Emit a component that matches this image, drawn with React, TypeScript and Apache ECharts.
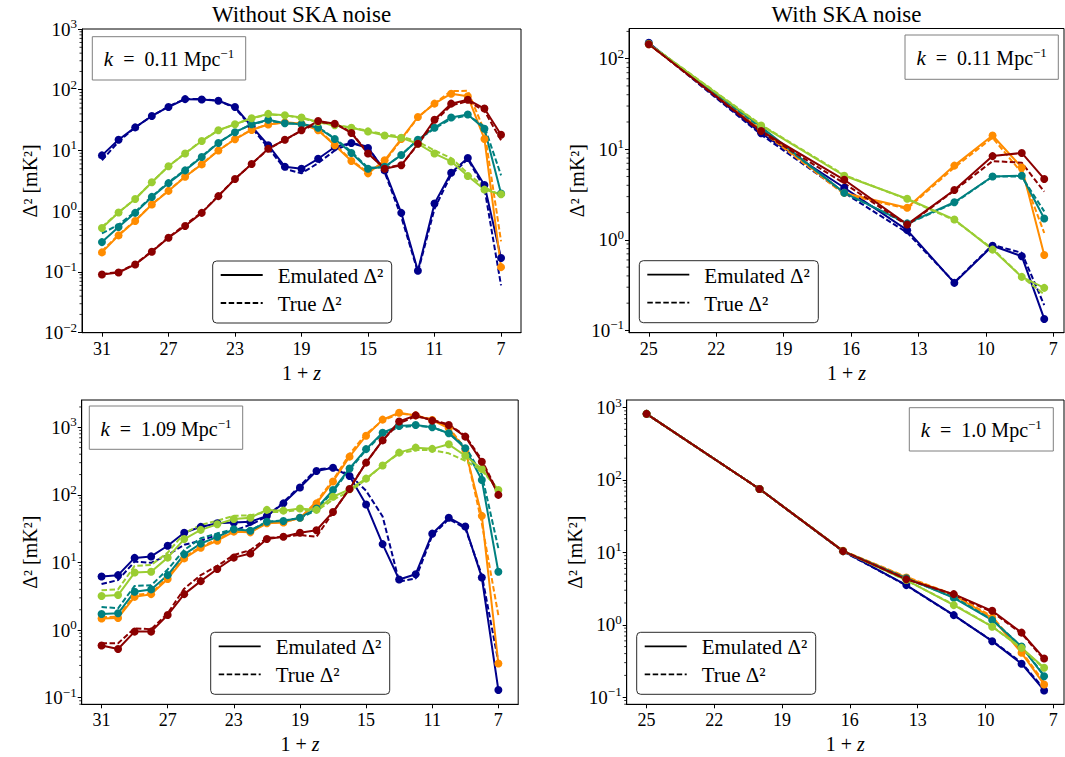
import React, { useEffect, useRef } from 'react';
import * as echarts from 'echarts';

// ---------- data ----------
const COLORS = ['#00008b', '#ff8c00', '#008080', '#9acd32', '#8b0000'];

const X_FULL = [31, 30, 29, 28, 27, 26, 25, 24, 23, 22, 21, 20, 19, 18, 17, 16, 15, 14, 13, 12, 11, 10, 9, 8, 7];
const X_SKA = [25, 20, 16.3, 13.5, 11.4, 9.7, 8.4, 7.4];

const X_TICKS_FULL = [31, 27, 23, 19, 15, 11, 7];
const X_TICKS_SKA = [25, 22, 19, 16, 13, 10, 7];

// Panel 1: k = 0.11, without SKA noise
const P1_EMU_NAVY = [8.3, 15, 24, 37, 52, 70, 69, 66, 52, 25, 12.2, 5.4, 5.0, 7.3, 11.4, 13.3, 11, 4.7, 0.94, 0.105, 1.34, 4.3, 7.5, 2.7, 0.17];
const P1_EMU_ORANGE = [0.21, 0.40, 0.69, 1.29, 2.16, 3.7, 5.9, 10, 15.3, 21.8, 26.8, 29, 27.7, 21.5, 12.2, 6.7, 4.2, 6.9, 15.5, 35.6, 59, 86, 78, 15.5, 0.12];
const P1_EMU_TEAL = [0.31, 0.55, 0.94, 1.72, 2.9, 4.7, 7.8, 13.3, 20, 27, 32, 28, 27, 23.7, 15.5, 9.1, 5.0, 5.4, 8.4, 15, 23.7, 35, 39, 22.8, 1.96];
const P1_EMU_GREEN = [0.53, 0.95, 1.59, 3.0, 5.5, 8.9, 14.3, 21.5, 27, 34, 40, 38, 35, 29.5, 26, 23.7, 20.6, 17.7, 16.2, 12.9, 8.9, 6.6, 3.8, 2.27, 1.9];
const P1_EMU_RED = [0.091, 0.098, 0.133, 0.215, 0.365, 0.57, 0.94, 1.77, 3.4, 6.0, 10.7, 15, 21.5, 30.5, 27.6, 19.4, 8.9, 5.0, 5.7, 12.9, 32, 59, 68.5, 49, 18.2];

const P1_TRUE_NAVY = [6.9, 14, 24, 37, 53, 71, 70, 66, 50, 24, 11, 5.0, 4.2, 6.2, 10, 13.3, 11.5, 4.4, 0.81, 0.1, 1.1, 4.0, 7.2, 2.4, 0.06];
const P1_TRUE_ORANGE = [0.22, 0.41, 0.70, 1.3, 2.2, 3.7, 6.0, 10, 15.5, 22, 27, 29, 28, 22, 12.5, 7, 4.3, 6.5, 15, 35, 60, 95, 96, 21, 0.32];
const P1_TRUE_TEAL = [0.43, 0.6, 0.98, 1.75, 3.0, 4.8, 8, 13.5, 20, 27, 31, 28, 27.5, 24, 16, 9.5, 5.2, 5.3, 8.5, 15, 23, 33, 38, 25, 3.9];
const P1_TRUE_GREEN = [0.55, 0.96, 1.6, 3.0, 5.5, 9, 14.5, 21.5, 27, 34, 39, 38, 34, 29, 26, 24, 21, 18.5, 17, 14, 10, 7.5, 4.2, 2.5, 1.8];
const P1_TRUE_RED = [0.092, 0.1, 0.135, 0.22, 0.37, 0.6, 0.95, 1.8, 3.4, 6, 10.5, 15, 21, 29, 28, 20, 9, 5.2, 5.8, 12.5, 30, 55, 65, 45, 14.7];

// Panel 2: k = 0.11, with SKA noise
const P2_EMU_NAVY = [150, 15, 3.76, 1.28, 0.335, 0.86, 0.66, 0.134];
const P2_EMU_ORANGE = [144, 16.5, 3.3, 2.26, 6.6, 14.2, 6.3, 0.68];
const P2_EMU_TEAL = [146, 17.7, 3.3, 1.52, 2.6, 5.0, 5.1, 1.72];
const P2_EMU_GREEN = [145, 18.3, 5.1, 2.84, 1.68, 0.78, 0.39, 0.295];
const P2_EMU_RED = [144, 15.9, 4.6, 1.48, 3.55, 8.4, 9.1, 4.7];

const P2_TRUE_NAVY = [148, 14.5, 3.3, 1.2, 0.34, 0.88, 0.72, 0.19];
const P2_TRUE_ORANGE = [145, 16, 3.2, 2.2, 6.3, 13.4, 5.5, 1.19];
const P2_TRUE_TEAL = [146, 17.2, 3.3, 1.5, 2.55, 5.0, 5.0, 2.06];
const P2_TRUE_GREEN = [146, 18.6, 5.2, 2.8, 1.65, 0.8, 0.39, 0.25];
const P2_TRUE_RED = [145, 15.5, 4.2, 1.45, 3.5, 7.4, 7.1, 3.4];

// Panel 3: k = 1.09, without SKA noise
const P3_EMU_NAVY = [6.2, 6.5, 11.7, 12.3, 17.7, 27.5, 33.6, 38, 39, 40, 49, 75, 129, 226, 252, 190, 72, 18.7, 5.6, 6.7, 26.7, 46, 34, 6.0, 0.13];
const P3_EMU_ORANGE = [1.48, 1.51, 3.1, 3.4, 5.7, 11.5, 16.5, 21, 28.6, 27.9, 38, 39, 46, 75, 158, 368, 750, 1300, 1640, 1500, 1280, 966, 460, 49, 0.32];
const P3_EMU_TEAL = [1.73, 1.77, 3.7, 4.0, 6.5, 13.2, 19, 24, 31, 29.5, 40, 41, 46, 63, 118, 246, 475, 830, 1045, 1083, 1000, 815, 490, 166, 7.3];
const P3_EMU_GREEN = [3.2, 3.3, 7.1, 7.3, 11.8, 22.2, 30.4, 36.7, 44, 46, 60, 58.5, 63, 60, 94, 121, 174, 272, 422, 500, 480, 560, 380, 242, 118];
const P3_EMU_RED = [0.59, 0.525, 0.95, 0.95, 1.67, 3.4, 5.3, 8.0, 11.8, 13.6, 22.2, 24, 27.6, 30, 56, 122, 300, 640, 1220, 1500, 1255, 1083, 728, 310, 100];

const P3_TRUE_NAVY = [4.8, 5.5, 10.3, 9.9, 12.9, 18.3, 21, 25.6, 29.7, 36, 48, 78, 135, 240, 250, 200, 115, 48, 5.2, 5.8, 25, 44, 32, 6.5, 0.34];
const P3_TRUE_ORANGE = [1.55, 1.58, 3.3, 3.5, 6.0, 12, 17, 22, 29, 28.5, 38, 40, 45, 80, 165, 400, 800, 1250, 1600, 1500, 1300, 1000, 480, 38, 1.66];
const P3_TRUE_TEAL = [2.2, 2.1, 4.5, 4.6, 7.9, 15.3, 22.8, 27, 31, 30, 40, 42, 45, 60, 112, 236, 460, 800, 1000, 1050, 1000, 820, 520, 200, 16.2];
const P3_TRUE_GREEN = [3.9, 4.0, 8.9, 9.2, 14, 27, 36, 41.6, 49, 50, 56, 56, 60, 58, 85, 112, 170, 275, 410, 460, 460, 412, 320, 230, 120];
const P3_TRUE_RED = [0.64, 0.64, 1.06, 1.03, 1.77, 4.1, 6.5, 8.9, 12.9, 15.3, 23, 24, 25.6, 24, 55, 125, 300, 640, 1150, 1450, 1300, 1100, 750, 330, 105];

// Panel 4: k = 1.0, with SKA noise
const P4_EMU_NAVY = [818, 75, 10.4, 3.53, 1.36, 0.594, 0.29, 0.124];
const P4_EMU_ORANGE = [818, 75, 10.5, 4.5, 2.57, 1.25, 0.41, 0.15];
const P4_EMU_TEAL = [818, 75, 10.4, 4.4, 2.36, 1.16, 0.50, 0.195];
const P4_EMU_GREEN = [818, 75, 10.4, 4.15, 1.87, 0.94, 0.48, 0.255];
const P4_EMU_RED = [818, 75, 10.4, 4.24, 2.65, 1.56, 0.78, 0.343];

const P4_TRUE_NAVY = [815, 75, 10.3, 3.5, 1.35, 0.6, 0.3, 0.13];
const P4_TRUE_ORANGE = [815, 75, 10.5, 4.6, 2.6, 1.3, 0.43, 0.16];
const P4_TRUE_TEAL = [815, 75, 10.4, 4.35, 2.4, 1.18, 0.5, 0.2];
const P4_TRUE_GREEN = [815, 75, 10.4, 4.1, 1.9, 0.95, 0.47, 0.25];
const P4_TRUE_RED = [815, 75, 10.4, 4.3, 2.6, 1.5, 0.76, 0.33];

const K_LABELS = ['0.11', '0.11', '1.09', '1.0'];
const TITLES = ['Without SKA noise', 'With SKA noise'];

// ---------- layout ----------
const FONT = '"Liberation Serif", "DejaVu Serif", serif';

type Panel = {
  grid: { left: number; top: number; width: number; height: number };
  xMin: number; xMax: number; xTicks: number[];
  yMin: number; yMax: number; yTicks: number[];
  xs: number[]; emu: number[][]; tru: number[][];
  kBox: { x: number; y: number; w: number; h: number };
  legend: { x: number; y: number };
};

const PANELS: Panel[] = [
  {
    grid: { left: 82, top: 29, width: 439, height: 303.7 },
    xMin: 5.8, xMax: 32.2, xTicks: X_TICKS_FULL,
    yMin: 0.01, yMax: 1000, yTicks: [0.01, 0.1, 1, 10, 100, 1000],
    xs: X_FULL,
    emu: [P1_EMU_NAVY, P1_EMU_ORANGE, P1_EMU_TEAL, P1_EMU_GREEN, P1_EMU_RED],
    tru: [P1_TRUE_NAVY, P1_TRUE_ORANGE, P1_TRUE_TEAL, P1_TRUE_GREEN, P1_TRUE_RED],
    kBox: { x: 92.3, y: 36.7, w: 153.4, h: 43.3 },
    legend: { x: 212.7, y: 261 },
  },
  {
    grid: { left: 629, top: 28.5, width: 435, height: 304.2 },
    xMin: 6.52, xMax: 25.88, xTicks: X_TICKS_SKA,
    yMin: Math.pow(10, -1.025), yMax: Math.pow(10, 2.333), yTicks: [0.1, 1, 10, 100],
    xs: X_SKA,
    emu: [P2_EMU_NAVY, P2_EMU_ORANGE, P2_EMU_TEAL, P2_EMU_GREEN, P2_EMU_RED],
    tru: [P2_TRUE_NAVY, P2_TRUE_ORANGE, P2_TRUE_TEAL, P2_TRUE_GREEN, P2_TRUE_RED],
    kBox: { x: 905, y: 35, w: 153.3, h: 44.3 },
    legend: { x: 639.3, y: 260.7 },
  },
  {
    grid: { left: 81.7, top: 400, width: 436.5, height: 304.3 },
    xMin: 5.8, xMax: 32.2, xTicks: X_TICKS_FULL,
    yMin: Math.pow(10, -1.098), yMax: Math.pow(10, 3.404), yTicks: [0.1, 1, 10, 100, 1000],
    xs: X_FULL,
    emu: [P3_EMU_NAVY, P3_EMU_ORANGE, P3_EMU_TEAL, P3_EMU_GREEN, P3_EMU_RED],
    tru: [P3_TRUE_NAVY, P3_TRUE_ORANGE, P3_TRUE_TEAL, P3_TRUE_GREEN, P3_TRUE_RED],
    kBox: { x: 89.3, y: 406, w: 153.4, h: 43.3 },
    legend: { x: 210.7, y: 632.3 },
  },
  {
    grid: { left: 626.7, top: 400, width: 437.3, height: 304.3 },
    xMin: 6.52, xMax: 25.88, xTicks: X_TICKS_SKA,
    yMin: Math.pow(10, -1.098), yMax: Math.pow(10, 3.104), yTicks: [0.1, 1, 10, 100, 1000],
    xs: X_SKA,
    emu: [P4_EMU_NAVY, P4_EMU_ORANGE, P4_EMU_TEAL, P4_EMU_GREEN, P4_EMU_RED],
    tru: [P4_TRUE_NAVY, P4_TRUE_ORANGE, P4_TRUE_TEAL, P4_TRUE_GREEN, P4_TRUE_RED],
    kBox: { x: 909.3, y: 407.7, w: 144, h: 43.3 },
    legend: { x: 636.7, y: 632.3 },
  },
];

function expLabel(v: number): string {
  const e = Math.round(Math.log10(v));
  return '10{sup|' + (e < 0 ? '\u2212' + String(-e) : String(e)) + '}';
}

function minorValues(yMin: number, yMax: number): number[] {
  const out: number[] = [];
  const e0 = Math.floor(Math.log10(yMin));
  const e1 = Math.ceil(Math.log10(yMax));
  for (let e = e0; e <= e1; e++) {
    for (let m = 2; m <= 9; m++) {
      const v = m * Math.pow(10, e);
      if (v > yMin && v < yMax) out.push(v);
    }
  }
  return out;
}

function buildOption() {
  const grids: any[] = [];
  const xAxes: any[] = [];
  const yAxes: any[] = [];
  const series: any[] = [];
  const graphics: any[] = [];

  PANELS.forEach((p, pi) => {
    grids.push({ ...p.grid, show: true, borderColor: '#000', borderWidth: 1, backgroundColor: 'transparent' });
    xAxes.push({
      type: 'value', gridIndex: pi, inverse: true, min: p.xMin, max: p.xMax,
      splitLine: { show: false },
      axisLine: { show: true, onZero: false, lineStyle: { color: '#000', width: 1 } },
      axisTick: { show: true, length: 4, customValues: p.xTicks, lineStyle: { color: '#000' } },
      axisLabel: { customValues: p.xTicks, color: '#000', fontFamily: FONT, fontSize: 18, margin: 7 },
      name: '1 + {i|z}', nameLocation: 'middle', nameGap: 30,
      nameTextStyle: { color: '#000', fontFamily: FONT, fontSize: 20, rich: { i: { fontStyle: 'italic', fontFamily: FONT, fontSize: 20, color: '#000' } } },
    });
    yAxes.push({
      type: 'log', logBase: 10, gridIndex: pi, min: p.yMin, max: p.yMax,
      splitLine: { show: false },
      axisLine: { show: true, lineStyle: { color: '#000', width: 1 } },
      axisTick: { show: true, length: 4, customValues: p.yTicks, lineStyle: { color: '#000' } },
      axisLabel: {
        customValues: p.yTicks, formatter: (v: number) => expLabel(v), color: '#000', fontFamily: FONT,
        fontSize: 19, lineHeight: 24, margin: 5,
        rich: { sup: { fontSize: 13, lineHeight: 13, verticalAlign: 'top', fontFamily: FONT, color: '#000' } },
      },
      name: '\u0394\u00b2 [mK\u00b2]', nameLocation: 'middle', nameGap: 42,
      nameTextStyle: { color: '#000', fontFamily: FONT, fontSize: 20 },
    });

    // minor ticks on log y axis, placed through the axis scale
    const xMid = (p.xMin + p.xMax) / 2;
    series.push({
      type: 'custom', xAxisIndex: pi, yAxisIndex: pi, silent: true, clip: false, z: 1,
      data: minorValues(p.yMin, p.yMax).map((v) => [xMid, v]),
      encode: { x: 0, y: 1 },
      renderItem: (params: any, api: any) => {
        const pt = api.coord([api.value(0), api.value(1)]);
        const cs = params.coordSys;
        return {
          type: 'line',
          shape: { x1: cs.x - 2.5, y1: pt[1], x2: cs.x, y2: pt[1] },
          style: { stroke: '#000', lineWidth: 0.8 },
        };
      },
    });

    COLORS.forEach((c, k) => {
      series.push({
        type: 'line', xAxisIndex: pi, yAxisIndex: pi, silent: true,
        data: p.xs.map((x, i) => [x, p.emu[k][i]]),
        symbol: 'circle', symbolSize: 8, showSymbol: true,
        lineStyle: { color: c, width: 2 }, itemStyle: { color: c },
        emphasis: { disabled: true }, z: 3,
      });
      series.push({
        type: 'line', xAxisIndex: pi, yAxisIndex: pi, silent: true,
        data: p.xs.map((x, i) => [x, p.tru[k][i]]),
        symbol: 'none', showSymbol: false,
        lineStyle: { color: c, width: 2, type: [5.5, 2.5] },
        emphasis: { disabled: true }, z: 3,
      });
    });

    // k annotation box
    graphics.push({
      type: 'rect', z: 100,
      shape: { x: p.kBox.x, y: p.kBox.y, width: p.kBox.w, height: p.kBox.h },
      style: { fill: '#fff', stroke: '#7f7f7f', lineWidth: 1 },
    });
    graphics.push({
      type: 'text', z: 101,
      x: p.kBox.x + p.kBox.w / 2, y: p.kBox.y + p.kBox.h / 2 + 1,
      style: {
        text: '{i|k}  =  ' + K_LABELS[pi] + ' Mpc{sup|\u22121}',
        fill: '#000', font: '20px ' + FONT, textAlign: 'center', textVerticalAlign: 'middle',
        rich: {
          i: { fontStyle: 'italic', fontSize: 21, fontFamily: FONT, lineHeight: 24 },
          sup: { fontSize: 13, fontFamily: FONT, verticalAlign: 'top', lineHeight: 13 },
        },
      },
    });

    // legend box
    const lx = p.legend.x, ly = p.legend.y;
    graphics.push({
      type: 'rect', z: 100,
      shape: { x: lx, y: ly, width: 179, height: 62, r: 4 },
      style: { fill: '#fff', stroke: '#2a2a2a', lineWidth: 1 },
    });
    graphics.push({
      type: 'line', z: 101,
      shape: { x1: lx + 8, y1: ly + 14, x2: lx + 50, y2: ly + 14 },
      style: { stroke: '#000', lineWidth: 1.8 },
    });
    graphics.push({
      type: 'line', z: 101,
      shape: { x1: lx + 8, y1: ly + 42, x2: lx + 50, y2: ly + 42 },
      style: { stroke: '#000', lineWidth: 1.8, lineDash: [5.5, 2.5] },
    });
    graphics.push({
      type: 'text', z: 101, x: lx + 65, y: ly + 15,
      style: { text: 'Emulated \u0394\u00b2', fill: '#000', font: '21px ' + FONT, textAlign: 'left', textVerticalAlign: 'middle' },
    });
    graphics.push({
      type: 'text', z: 101, x: lx + 65, y: ly + 43,
      style: { text: 'True \u0394\u00b2', fill: '#000', font: '21px ' + FONT, textAlign: 'left', textVerticalAlign: 'middle' },
    });
  });

  // column titles
  [0, 1].forEach((ci) => {
    const g = PANELS[ci].grid;
    graphics.push({
      type: 'text', z: 101, x: g.left + g.width / 2, y: 14,
      style: { text: TITLES[ci], fill: '#000', font: '23px ' + FONT, textAlign: 'center', textVerticalAlign: 'middle' },
    });
  });

  return {
    animation: false,
    backgroundColor: '#fff',
    grid: grids,
    xAxis: xAxes,
    yAxis: yAxes,
    series,
    graphic: graphics,
  };
}

export default function App() {
  const ref = useRef<HTMLDivElement>(null);
  useEffect(() => {
    if (!ref.current) return;
    const chart = echarts.init(ref.current, undefined, { renderer: 'svg' });
    chart.setOption(buildOption() as any);
    return () => chart.dispose();
  }, []);
  return (
    <div
      ref={ref}
      style={{ position: 'fixed', left: 0, top: 0, width: 1065, height: 757, background: '#fff' }}
    />
  );
}
